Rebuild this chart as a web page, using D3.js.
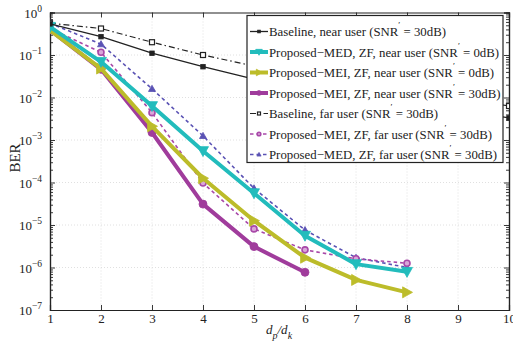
<!DOCTYPE html>
<html>
<head>
<meta charset="utf-8">
<script src="https://cdn.jsdelivr.net/npm/d3@7"></script>
<style>
  body { margin: 0; background: #fff; }
  svg text { font-family: "Liberation Serif", "DejaVu Serif", serif !important; fill: #222; }
</style>
</head>
<body>
<div id="chart"></div>
<script>
// ratio d_p/d_k
const ratios = [1, 2, 3, 4, 5, 6, 7, 8, 9, 10];
const xTicks = [1, 2, 3, 4, 5, 6, 7, 8, 9, 10];
const yExponents = [0, -1, -2, -3, -4, -5, -6, -7];

const baselineNear = [0.54, 0.27, 0.11, 0.053, 0.027, 0.018, 0.012, 0.0079, 0.0051, 0.0033];
const medNear0 = [0.46, 0.069, 0.0063, 0.00055, 0.000056, 0.0000056, 0.0000012, 0.00000079];
const meiNear0 = [0.38, 0.048, 0.0021, 0.000126, 0.0000126, 0.0000017, 0.00000051, 0.00000026];
const meiNear30 = [0.39, 0.046, 0.0015, 0.000031, 0.0000031, 0.00000077];
const baselineFar = [0.56, 0.42, 0.2, 0.1, 0.055, 0.036, 0.024, 0.016, 0.0098, 0.0063];
const meiFar30 = [0.42, 0.116, 0.0044, 0.000097, 0.0000081, 0.0000026, 0.0000016, 0.00000126];
const medFar30 = [0.56, 0.18, 0.016, 0.00125, 0.000073, 0.0000076, 0.0000017, 0.000001];

const series = [
  { label: "Baseline, near user (SNR", snr: " = 30dB)", values: baselineNear, color: "#222222", width: 1.3, dash: null, marker: "square", size: 4.5, fill: true },
  { label: "Proposed\u2212MED, ZF, near user (SNR", snr: " = 0dB)", values: medNear0, color: "#22bcbc", width: 4, dash: null, marker: "down", size: 11, fill: true },
  { label: "Proposed\u2212MEI, ZF, near user (SNR", snr: " = 0dB)", values: meiNear0, color: "#bcbc2a", width: 4, dash: null, marker: "right", size: 11, fill: true },
  { label: "Proposed\u2212MEI, ZF, near user (SNR", snr: " = 30dB)", values: meiNear30, color: "#a03c9c", width: 4, dash: null, marker: "circle", size: 4, fill: true },
  { label: "Baseline, far user (SNR", snr: " = 30dB)", values: baselineFar, color: "#222222", width: 1.2, dash: "6,3,1.5,3", marker: "square", size: 5, fill: false },
  { label: "Proposed\u2212MEI, ZF, far user\u2009(SNR", snr: " = 30dB)", values: meiFar30, color: "#a848a8", width: 1.6, dash: "3.5,3", marker: "circle", size: 3, fill: "ring" },
  { label: "Proposed\u2212MED, ZF, far user\u2009(SNR", snr: " = 30dB)", values: medFar30, color: "#5a52b4", width: 1.6, dash: "3.5,3", marker: "up", size: 7, fill: true }
];

const W = 513, H = 346;
const plot = { left: 50, right: 509, top: 12.5, bottom: 310 };
const FONT = "Liberation Serif, DejaVu Serif, serif";

const x = d3.scaleLinear().domain([1, 10]).range([plot.left, plot.right]);
const y = d3.scaleLog().domain([1e-7, 1]).range([plot.bottom, plot.top]);

const svg = d3.select("#chart").append("svg")
  .attr("width", W).attr("height", H)
  .attr("font-family", FONT);

svg.append("defs").append("clipPath").attr("id", "clip")
  .append("rect")
  .attr("x", plot.left).attr("y", plot.top)
  .attr("width", plot.right - plot.left).attr("height", plot.bottom - plot.top);

// grid
const grid = svg.append("g");
grid.selectAll("line.gx").data(xTicks.slice(1, -1)).enter().append("line")
  .attr("x1", d => x(d)).attr("x2", d => x(d))
  .attr("y1", plot.top).attr("y2", plot.bottom)
  .attr("stroke", "#d8d8d8").attr("stroke-width", 0.8).attr("stroke-dasharray", "1,2");
grid.selectAll("line.gy").data(yExponents.slice(1, -1)).enter().append("line")
  .attr("y1", d => y(Math.pow(10, d))).attr("y2", d => y(Math.pow(10, d)))
  .attr("x1", plot.left).attr("x2", plot.right)
  .attr("stroke", "#d8d8d8").attr("stroke-width", 0.8).attr("stroke-dasharray", "1,2");

// axes (ticks inward on all four sides)
const axB = svg.append("g").attr("transform", "translate(0," + plot.bottom + ")")
  .call(d3.axisBottom(x).tickValues(xTicks).tickSize(-5).tickPadding(4).tickFormat(d3.format("d")));
svg.append("g").attr("transform", "translate(0," + plot.top + ")")
  .call(d3.axisTop(x).tickValues(xTicks).tickSize(-5).tickFormat(""));

const minor = [];
for (let e = -7; e < 0; e++) for (let m = 2; m <= 9; m++) minor.push(m * Math.pow(10, e));
const majors = yExponents.map(e => Math.pow(10, e));

svg.append("g").attr("transform", "translate(" + plot.left + ",0)")
  .call(d3.axisLeft(y).tickValues(majors).tickSize(-5).tickFormat(""));
svg.append("g").attr("transform", "translate(" + plot.left + ",0)")
  .call(d3.axisLeft(y).tickValues(minor).tickSize(-3).tickFormat(""));
svg.append("g").attr("transform", "translate(" + plot.right + ",0)")
  .call(d3.axisRight(y).tickValues(majors).tickSize(-5).tickFormat(""));
svg.append("g").attr("transform", "translate(" + plot.right + ",0)")
  .call(d3.axisRight(y).tickValues(minor).tickSize(-3).tickFormat(""));

svg.selectAll(".domain").attr("stroke", "#222").attr("stroke-width", 1.2);
svg.selectAll(".tick line").attr("stroke", "#222").attr("stroke-width", 0.9);
svg.selectAll("g[font-family]").attr("font-family", FONT);
axB.selectAll(".tick text").attr("font-size", 13).attr("fill", "#222");

// y tick labels 10^e
const yl = svg.append("g");
yExponents.forEach(e => {
  const t = yl.append("text")
    .attr("x", 42).attr("y", y(Math.pow(10, e)) + 5)
    .attr("text-anchor", "end").attr("font-size", 13);
  t.append("tspan").text("10");
  t.append("tspan").attr("dy", -6).attr("font-size", 9.5).text(e === 0 ? "0" : "\u2212" + Math.abs(e));
});

// axis titles
svg.append("text")
  .attr("transform", "translate(20," + 158 + ") rotate(-90)")
  .attr("text-anchor", "middle").attr("font-size", 15).text("BER");

const xl = svg.append("text").attr("x", 266).attr("y", 334)
  .attr("text-anchor", "start").attr("font-size", 13).attr("font-style", "italic");
xl.append("tspan").text("d");
xl.append("tspan").attr("dy", 5).attr("font-size", 10).text("p");
xl.append("tspan").attr("dy", -5).text("/d");
xl.append("tspan").attr("dy", 5).attr("font-size", 10).text("k");

// markers
function drawMarker(g, s, cx, cy) {
  let el;
  const r = s.size;
  if (s.marker === "square") {
    el = g.append("rect").attr("x", cx - r / 2).attr("y", cy - r / 2).attr("width", r).attr("height", r);
  } else if (s.marker === "circle") {
    el = g.append("circle").attr("cx", cx).attr("cy", cy).attr("r", r);
  } else {
    const h = r * 0.5;
    let pts;
    if (s.marker === "down") pts = [[cx - h, cy - h * 0.8], [cx + h, cy - h * 0.8], [cx, cy + h]];
    else if (s.marker === "up") pts = [[cx - h, cy + h * 0.75], [cx + h, cy + h * 0.75], [cx, cy - h]];
    else pts = [[cx - h * 0.8, cy - h], [cx - h * 0.8, cy + h], [cx + h, cy]];
    el = g.append("path").attr("d", "M" + pts.map(p => p.join(",")).join("L") + "Z");
  }
  if (s.fill === true) el.attr("fill", s.color).attr("stroke", s.color).attr("stroke-width", 0.8);
  else if (s.fill === "ring") el.attr("fill", "#d9a6d9").attr("stroke", s.color).attr("stroke-width", 1.6);
  else el.attr("fill", "#fff").attr("stroke", s.color).attr("stroke-width", 1.2);
}

const line = d3.line().x((d, i) => x(ratios[i])).y(d => y(d));
const lines = svg.append("g").attr("clip-path", "url(#clip)");

// draw in reverse so near-user lines sit on top
series.slice().reverse().forEach(s => {
  const g = lines.append("g");
  g.append("path").datum(s.values)
    .attr("d", line)
    .attr("fill", "none")
    .attr("stroke", s.color)
    .attr("stroke-width", s.width)
    .attr("stroke-dasharray", s.dash)
    .attr("stroke-linejoin", "round");
  s.values.forEach((v, i) => drawMarker(g, s, x(ratios[i]), y(v)));
});

// legend
const lg = svg.append("g");
lg.append("rect").attr("x", 247).attr("y", 15.5).attr("width", 256).attr("height", 147)
  .attr("fill", "#fff").attr("stroke", "#222").attr("stroke-width", 1.2);
series.forEach((s, i) => {
  const cy = 31.5 + i * 20.5;
  lg.append("line").attr("x1", 250).attr("x2", 268).attr("y1", cy).attr("y2", cy)
    .attr("stroke", s.color).attr("stroke-width", s.width).attr("stroke-dasharray", s.dash);
  const ms = Object.assign({}, s, { size: s.size * 0.6 });
  drawMarker(lg, ms, 259, cy);
  const t = lg.append("text").attr("x", 269).attr("y", cy + 4.5).attr("font-size", 12.8);
  t.append("tspan").text(s.label);
  t.append("tspan").attr("dy", -8).attr("font-size", 9).text("\u2032");
  t.append("tspan").attr("dy", 8).text(s.snr);
});
</script>
</body>
</html>
